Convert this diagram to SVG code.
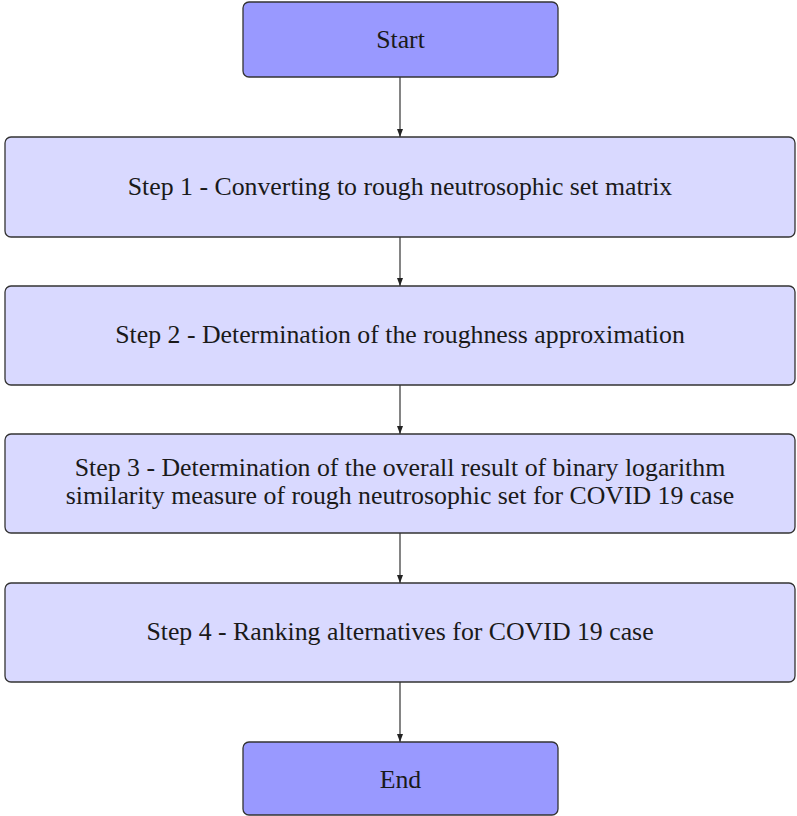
<svg xmlns="http://www.w3.org/2000/svg" width="797" height="816" viewBox="0 0 797 816">
<defs>
<style>
.term{fill:#9999ff;stroke:#333;stroke-width:1.3}
.step{fill:#d9d9ff;stroke:#333;stroke-width:1.3}
text{font-family:"Liberation Serif","Times New Roman",serif;font-size:25.8px;fill:#1a1a1a;text-anchor:middle}
.conn{stroke:#333;stroke-width:1.2;fill:none;marker-end:url(#ah)}
</style>
<marker id="ah" viewBox="0 0 8 8" refX="8" refY="4" markerWidth="8" markerHeight="8" markerUnits="userSpaceOnUse" orient="auto">
<path d="M0,1 L8,4 L0,7 Z" fill="#222"/>
</marker>
</defs>
<rect width="797" height="816" fill="#fff"/>
<g id="connectors">
<line class="conn" x1="400" y1="77" x2="400" y2="137"/>
<line class="conn" x1="400" y1="237" x2="400" y2="286"/>
<line class="conn" x1="400" y1="385" x2="400" y2="434"/>
<line class="conn" x1="400" y1="533" x2="400" y2="583"/>
<line class="conn" x1="400" y1="682" x2="400" y2="742"/>
</g>
<g id="start">
<rect class="term" x="243" y="2" width="315" height="75" rx="6"/>
<text x="400.5" y="48">Start</text>
</g>
<g id="step1">
<rect class="step" x="5" y="137" width="790" height="100" rx="6"/>
<text x="400" y="195">Step 1 - Converting to rough neutrosophic set matrix</text>
</g>
<g id="step2">
<rect class="step" x="5" y="286" width="790" height="99" rx="6"/>
<text x="400" y="343">Step 2 - Determination of the roughness approximation</text>
</g>
<g id="step3">
<rect class="step" x="5" y="434" width="790" height="99" rx="6"/>
<text x="400" y="476">Step 3 - Determination of the overall result of binary logarithm</text>
<text x="400" y="504">similarity measure of rough neutrosophic set for COVID 19 case</text>
</g>
<g id="step4">
<rect class="step" x="5" y="583" width="790" height="99" rx="6"/>
<text x="400" y="640">Step 4 - Ranking alternatives for COVID 19 case</text>
</g>
<g id="end">
<rect class="term" x="243" y="742" width="315" height="73" rx="6"/>
<text x="400.5" y="788">End</text>
</g>
</svg>
